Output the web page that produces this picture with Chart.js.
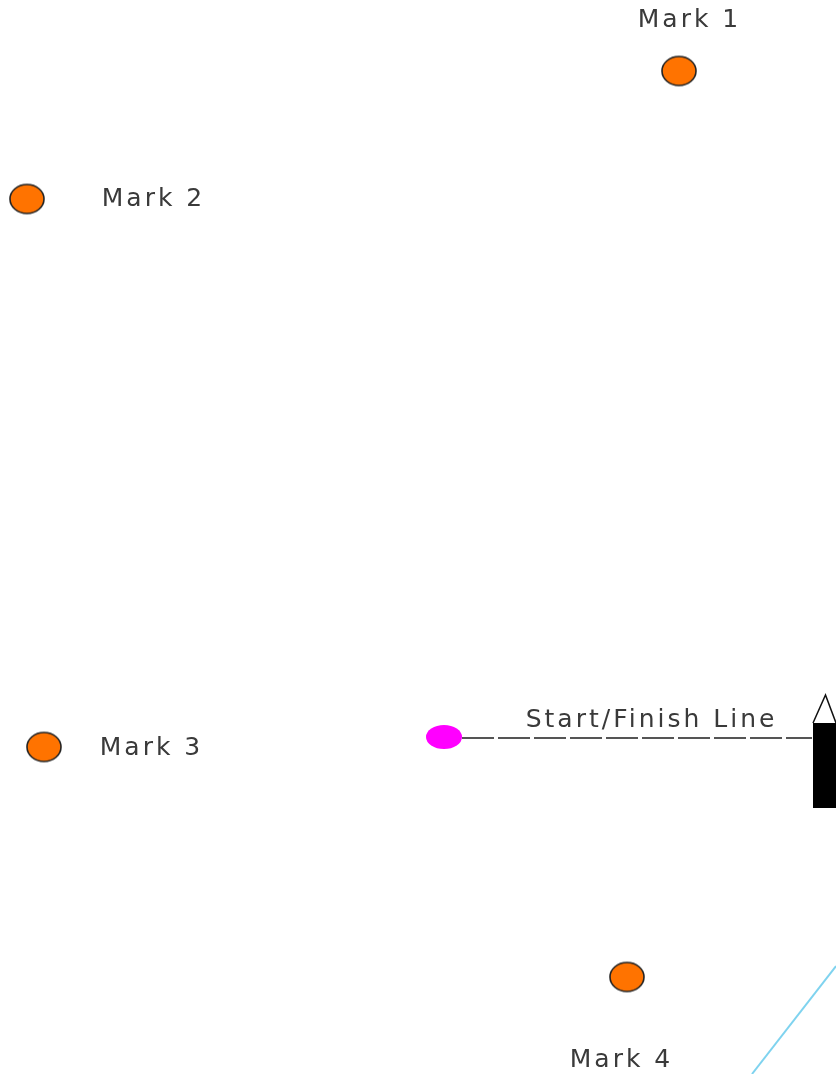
<!DOCTYPE html>
<html>
<head>
<meta charset="utf-8">
<script src="https://cdn.jsdelivr.net/npm/chart.js@4"></script>
<style>
  html, body { margin: 0; padding: 0; background: #fff; }
  #wrap { width: 836px; height: 1074px; }
</style>
</head>
<body>
<div id="wrap"><canvas id="course"></canvas></div>
<script>
// course layout, in a 836 x 1074 plan (y counts down from the top)
var markNames = ['Mark 1', 'Mark 2', 'Mark 3', 'Mark 4'];
var markX = [679, 27, 44, 627];
var markY = [71, 199, 747, 977];
var labelX = [688, 152, 150, 620];
var labelY = [20, 199, 748, 1060];

var pinX = 444, pinY = 737;
var lineEndX = 812;
var lineLabel = 'Start/Finish Line';
var lineLabelX = 650, lineLabelY = 720;

var boatX = [813, 836];
var boatY = [723, 808];
var bowTipY = 695;

var laylineX = [836, 752];
var laylineY = [966, 1074];

function ellipseImage(w, h, fill, stroke) {
    var c = document.createElement('canvas');
    c.width = w + 4; c.height = h + 4;
    var g = c.getContext('2d');
    g.beginPath();
    g.ellipse(c.width / 2, c.height / 2, w / 2, h / 2, 0, 0, Math.PI * 2);
    g.fillStyle = fill;
    g.fill();
    if (stroke) { g.lineWidth = 1.6; g.strokeStyle = stroke; g.stroke(); }
    return c;
}

var markImg = ellipseImage(34, 29, '#ff7300', '#222');
var pinImg = ellipseImage(36, 24, '#ff00ff', null);

function spacedText(ctx, text, x, y) {
    // centre text drawn with extra tracking
    ctx.letterSpacing = '3px';
    var w = ctx.measureText(text).width - 3;
    ctx.textAlign = 'left';
    ctx.fillText(text, x - w / 2, y);
}

var courseExtras = {
    id: 'courseExtras',
    beforeDatasetsDraw: function (chart) {
        var ctx = chart.ctx, sx = chart.scales.x, sy = chart.scales.y;
        // committee boat
        var x0 = sx.getPixelForValue(boatX[0]), x1 = sx.getPixelForValue(boatX[1]);
        var y0 = sy.getPixelForValue(boatY[0]), y1 = sy.getPixelForValue(boatY[1]);
        ctx.save();
        ctx.fillStyle = '#000';
        ctx.fillRect(x0, y0, x1 - x0, y1 - y0);
        ctx.beginPath();
        ctx.moveTo(x0, y0);
        ctx.lineTo((x0 + x1) / 2 + 1, sy.getPixelForValue(bowTipY));
        ctx.lineTo(x1, y0);
        ctx.lineWidth = 1.5;
        ctx.strokeStyle = '#111';
        ctx.stroke();
        ctx.restore();
    },
    afterDatasetsDraw: function (chart) {
        var ctx = chart.ctx, sx = chart.scales.x, sy = chart.scales.y;
        ctx.save();
        ctx.font = '25px "DejaVu Sans", sans-serif';
        ctx.fillStyle = '#3a3a3a';
        ctx.textBaseline = 'middle';
        markNames.forEach(function (name, i) {
            spacedText(ctx, name, sx.getPixelForValue(labelX[i]), sy.getPixelForValue(labelY[i]));
        });
        spacedText(ctx, lineLabel, sx.getPixelForValue(lineLabelX), sy.getPixelForValue(lineLabelY));
        ctx.restore();
    }
};

new Chart(document.getElementById('course'), {
    type: 'scatter',
    data: {
        datasets: [{
            label: 'Layline',
            type: 'line',
            data: [{ x: laylineX[0], y: laylineY[0] }, { x: laylineX[1], y: laylineY[1] }],
            borderColor: '#7fd3ef',
            borderWidth: 2,
            pointRadius: 0,
            fill: false
        }, {
            label: 'Start/Finish',
            type: 'line',
            data: [{ x: pinX + 18, y: pinY + 1 }, { x: lineEndX, y: pinY + 1 }],
            borderColor: '#555',
            borderWidth: 2,
            borderDash: [32, 4],
            pointRadius: 0,
            fill: false
        }, {
            label: 'Pin',
            data: [{ x: pinX, y: pinY }],
            pointStyle: pinImg
        }, {
            label: 'Marks',
            data: markX.map(function (x, i) { return { x: x, y: markY[i] }; }),
            pointStyle: markImg
        }]
    },
    options: {
        responsive: true,
        maintainAspectRatio: false,
        animation: false,
        layout: { padding: 0, autoPadding: false },
        plugins: {
            legend: { display: false },
            tooltip: { enabled: false }
        },
        scales: {
            x: { type: 'linear', min: 0, max: 836, display: false },
            y: { type: 'linear', min: 0, max: 1074, reverse: true, display: false }
        }
    },
    plugins: [courseExtras]
});
</script>
</body>
</html>
